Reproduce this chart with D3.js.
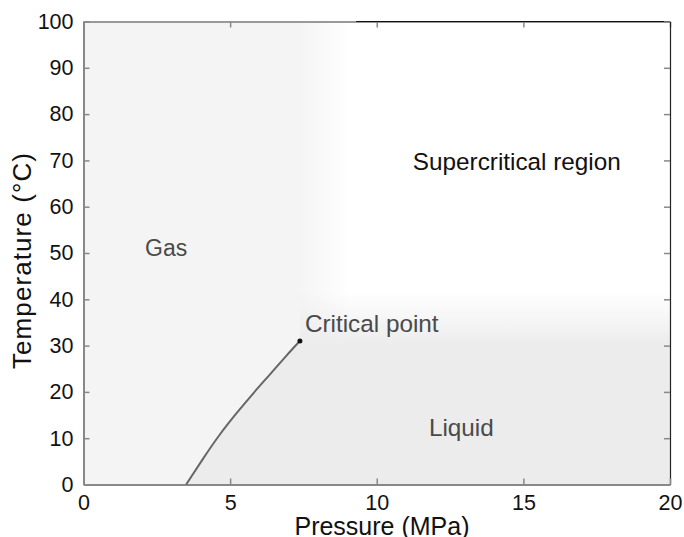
<!DOCTYPE html>
<html>
<head>
<meta charset="utf-8">
<script src="https://cdn.jsdelivr.net/npm/d3@7"></script>
<style>
  body { margin: 0; background: #fff; overflow: hidden; }
  text { font-family: "Liberation Sans", Arial, sans-serif; }
</style>
</head>
<body>
<script>
  // CO2 saturation curve, pressure (MPa) vs temperature (degC)
  var pressure    = [3.50, 4.09, 4.65, 5.22, 5.79, 6.36, 6.93, 7.38];
  var temperature = [0, 5.7, 10.8, 15.4, 19.7, 23.8, 27.9, 31];
  var criticalP = 7.38, criticalT = 31;

  var xTicks = [0, 5, 10, 15, 20];
  var yTicks = [0, 10, 20, 30, 40, 50, 60, 70, 80, 90, 100];

  var regionNames = ["Gas", "Supercritical region", "Critical point", "Liquid"];
  var regionP     = [2.1, 11.23, 7.55, 11.78];
  var regionT     = [49.4, 68.0, 33.0, 10.5];

  function draw() {
    "use strict";
    var width = 684, height = 537;
    var mLeft = 83.5, mRight = 670, mTop = 21.5, mBottom = 484.5;

    var svg = d3.select("body").append("svg")
        .attr("width", width)
        .attr("height", height);

    var x = d3.scaleLinear().domain([0, 20]).range([mLeft, mRight]);
    var y = d3.scaleLinear().domain([0, 100]).range([mBottom, mTop]);

    var defs = svg.append("defs");

    // gas shading fades out to the right of the critical pressure
    var gasGrad = defs.append("linearGradient")
        .attr("id", "gasGrad")
        .attr("gradientUnits", "userSpaceOnUse")
        .attr("x1", x(7.3)).attr("x2", x(9.1))
        .attr("y1", 0).attr("y2", 0);
    gasGrad.append("stop").attr("offset", 0).attr("stop-color", "#f4f4f4");
    gasGrad.append("stop").attr("offset", 1).attr("stop-color", "#ffffff");

    // liquid shading fades out above the critical temperature
    var liqGrad = defs.append("linearGradient")
        .attr("id", "liqGrad")
        .attr("gradientUnits", "userSpaceOnUse")
        .attr("x1", 0).attr("x2", 0)
        .attr("y1", y(41.5)).attr("y2", y(30));
    liqGrad.append("stop").attr("offset", 0).attr("stop-color", "#ececec").attr("stop-opacity", 0);
    liqGrad.append("stop").attr("offset", 1).attr("stop-color", "#ececec").attr("stop-opacity", 1);

    svg.append("rect")
        .attr("x", x(0)).attr("y", y(100))
        .attr("width", x(20) - x(0)).attr("height", y(0) - y(100))
        .attr("fill", "url(#gasGrad)");

    var curve = pressure.map(function(p, i) { return [p, temperature[i]]; });
    var line = d3.line()
        .x(function(d) { return x(d[0]); })
        .y(function(d) { return y(d[1]); });

    var liquidArea = curve.concat([[criticalP, 42], [20, 42], [20, 0]]);
    svg.append("path")
        .attr("d", line(liquidArea) + "Z")
        .attr("fill", "url(#liqGrad)");

    // axes, ticks pointing into the plot
    var xAxisB = d3.axisBottom(x).tickValues(xTicks).tickSize(-6).tickSizeOuter(0).tickPadding(10);
    var xAxisT = d3.axisTop(x).tickValues(xTicks).tickSize(-6).tickSizeOuter(0).tickFormat("");
    var yAxisL = d3.axisLeft(y).tickValues(yTicks).tickSize(-6).tickSizeOuter(0).tickPadding(10);
    var yAxisR = d3.axisRight(y).tickValues(yTicks).tickSize(-6).tickSizeOuter(0).tickFormat("");

    function styleAxis(g, domainColor, domainWidth) {
      g.select(".domain").attr("stroke", domainColor).attr("stroke-width", domainWidth);
      g.selectAll(".tick line").attr("stroke", "#888").attr("stroke-width", 1.5);
      g.selectAll(".tick text")
        .attr("fill", "#111")
        .style("font-size", "21.5px")
        .style("font-family", "'Liberation Sans', Arial, sans-serif");
    }

    svg.append("g").attr("transform", "translate(0," + mTop + ")").call(xAxisT)
        .call(styleAxis, "#999", 2);
    svg.append("line")
        .attr("x1", x(9.3)).attr("x2", x(20))
        .attr("y1", mTop).attr("y2", mTop)
        .attr("stroke", "#111").attr("stroke-width", 1.2);
    svg.append("g").attr("transform", "translate(" + mRight + ",0)").call(yAxisR)
        .call(styleAxis, "#222", 1.2);
    svg.append("g").attr("transform", "translate(0," + mBottom + ")").call(xAxisB)
        .call(styleAxis, "#888", 2);
    svg.append("g").attr("transform", "translate(" + mLeft + ",0)").call(yAxisL)
        .call(styleAxis, "#888", 2);

    // saturation line and critical point
    svg.append("path")
        .datum(curve)
        .attr("fill", "none")
        .attr("stroke", "#666")
        .attr("stroke-width", 2)
        .attr("d", line.curve(d3.curveNatural));

    svg.append("circle")
        .attr("cx", x(criticalP)).attr("cy", y(criticalT))
        .attr("r", 2.5).attr("fill", "#111");

    svg.selectAll(".region")
        .data(regionNames)
        .enter().append("text")
        .attr("class", "region")
        .attr("x", function(d, i) { return x(regionP[i]); })
        .attr("y", function(d, i) { return y(regionT[i]); })
        .attr("fill", function(d, i) { return i == 1 ? "#111" : "#4a4a4a"; })
        .style("font-size", function(d, i) { return i == 0 ? "23px" : "24.3px"; })
        .text(function(d) { return d; });

    svg.append("text")
        .attr("x", 382)
        .attr("y", 535)
        .attr("text-anchor", "middle")
        .attr("fill", "#111")
        .style("font-size", "25px")
        .text("Pressure (MPa)");

    svg.append("text")
        .attr("transform", "translate(31,261) rotate(-90)")
        .attr("text-anchor", "middle")
        .attr("fill", "#111")
        .attr("textLength", 216)
        .attr("lengthAdjust", "spacing")
        .style("font-size", "26px")
        .text("Temperature (\u00b0C)");
  }

  draw();
</script>
</body>
</html>
